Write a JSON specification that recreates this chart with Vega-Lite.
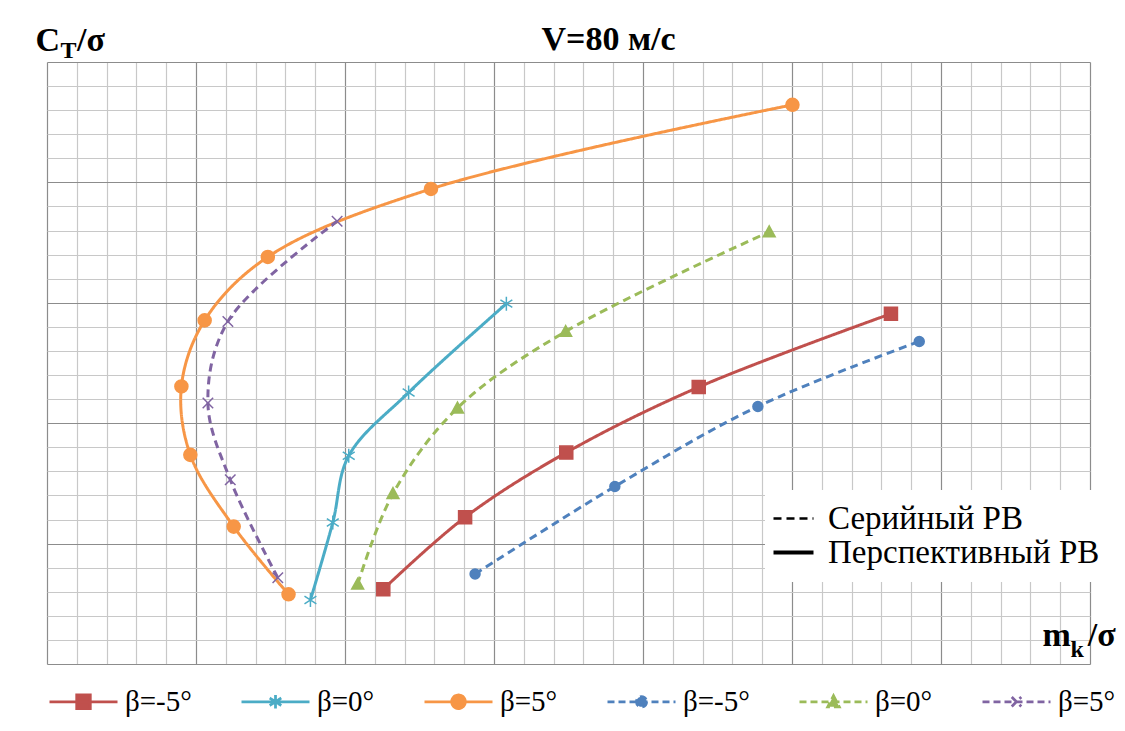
{
  "$schema": "https://vega.github.io/schema/vega-lite/v6.json",
  "width": 1043,
  "height": 602,
  "autosize": {"type": "none"},
  "padding": {"left": 47, "top": 62, "right": 35, "bottom": 67},
  "background": "white",
  "config": {
    "view": {"stroke": null},
    "font": "Liberation Serif",
    "legend": {"labelFont": "Liberation Serif", "labelColor": "black"}
  },
  "data": {
    "values": [
      {"s": "s1", "t": "Перспективный РВ", "i": 1, "m": 2.257, "c": 0.621},
      {"s": "s1", "t": "Перспективный РВ", "i": 2, "m": 2.806, "c": 1.219},
      {"s": "s1", "t": "Перспективный РВ", "i": 3, "m": 3.485, "c": 1.756},
      {"s": "s1", "t": "Перспективный РВ", "i": 4, "m": 4.374, "c": 2.3},
      {"s": "s1", "t": "Перспективный РВ", "i": 5, "m": 5.664, "c": 2.909},
      {"s": "s2", "t": "Перспективный РВ", "i": 1, "m": 1.768, "c": 0.532},
      {"s": "s2", "t": "Перспективный РВ", "i": 2, "m": 1.918, "c": 1.175},
      {"s": "s2", "t": "Перспективный РВ", "i": 3, "m": 2.025, "c": 1.729},
      {"s": "s2", "t": "Перспективный РВ", "i": 4, "m": 2.427, "c": 2.255},
      {"s": "s2", "t": "Перспективный РВ", "i": 5, "m": 3.083, "c": 2.993},
      {"s": "s3", "t": "Перспективный РВ", "i": 1, "m": 1.621, "c": 0.579},
      {"s": "s3", "t": "Перспективный РВ", "i": 2, "m": 1.253, "c": 1.141},
      {"s": "s3", "t": "Перспективный РВ", "i": 3, "m": 0.962, "c": 1.737},
      {"s": "s3", "t": "Перспективный РВ", "i": 4, "m": 0.902, "c": 2.305},
      {"s": "s3", "t": "Перспективный РВ", "i": 5, "m": 1.058, "c": 2.854},
      {"s": "s3", "t": "Перспективный РВ", "i": 6, "m": 1.482, "c": 3.381},
      {"s": "s3", "t": "Перспективный РВ", "i": 7, "m": 2.577, "c": 3.946},
      {"s": "s3", "t": "Перспективный РВ", "i": 8, "m": 5.003, "c": 4.644},
      {"s": "s4", "t": "Серийный РВ", "i": 1, "m": 2.873, "c": 0.748},
      {"s": "s4", "t": "Серийный РВ", "i": 2, "m": 3.811, "c": 1.474},
      {"s": "s4", "t": "Серийный РВ", "i": 3, "m": 4.771, "c": 2.139},
      {"s": "s4", "t": "Серийный РВ", "i": 4, "m": 5.854, "c": 2.679},
      {"s": "s5", "t": "Серийный РВ", "i": 1, "m": 2.085, "c": 0.663},
      {"s": "s5", "t": "Серийный РВ", "i": 2, "m": 2.322, "c": 1.415},
      {"s": "s5", "t": "Серийный РВ", "i": 3, "m": 2.755, "c": 2.126},
      {"s": "s5", "t": "Серийный РВ", "i": 4, "m": 3.481, "c": 2.762},
      {"s": "s5", "t": "Серийный РВ", "i": 5, "m": 4.847, "c": 3.589},
      {"s": "s6", "t": "Серийный РВ", "i": 1, "m": 1.549, "c": 0.717},
      {"s": "s6", "t": "Серийный РВ", "i": 2, "m": 1.23, "c": 1.53},
      {"s": "s6", "t": "Серийный РВ", "i": 3, "m": 1.08, "c": 2.167},
      {"s": "s6", "t": "Серийный РВ", "i": 4, "m": 1.214, "c": 2.845},
      {"s": "s6", "t": "Серийный РВ", "i": 5, "m": 1.947, "c": 3.677}
    ]
  },
  "layer": [
    {
      "mark": {"type": "line", "interpolate": "catmull-rom", "strokeWidth": 3},
      "encoding": {
        "x": {
          "field": "m", "type": "quantitative",
          "scale": {"domain": [0, 7], "nice": false, "zero": false},
          "axis": {
            "tickCount": 35, "labels": false, "ticks": false, "domain": false,
            "grid": true,
            "gridColor": {"condition": {"test": "abs(datum.value - round(datum.value)) < 0.000001", "value": "#8C8C8C"}, "value": "#C8C8C8"},
            "gridWidth": 1.2,
            "title": "m\u00a0\u00a0/σ", "titleX": 995, "titleY": -19, "titleAlign": "left",
            "titleBaseline": "alphabetic", "titleAngle": 0,
            "titleFont": "Liberation Serif", "titleFontSize": 34, "titleFontWeight": "bold", "titleColor": "black"
          }
        },
        "y": {
          "field": "c", "type": "quantitative",
          "scale": {"domain": [0, 5], "nice": false, "zero": false},
          "axis": {
            "tickCount": 25, "labels": false, "ticks": false, "domain": false,
            "grid": true,
            "gridColor": {"condition": {"test": "abs(datum.value - round(datum.value)) < 0.000001", "value": "#8C8C8C"}, "value": "#C8C8C8"},
            "gridWidth": 1.2,
            "title": "C\u00a0\u00a0/σ", "titleX": -12, "titleY": -12, "titleAlign": "left",
            "titleBaseline": "alphabetic", "titleAngle": 0,
            "titleFont": "Liberation Serif", "titleFontSize": 34, "titleFontWeight": "bold", "titleColor": "black"
          }
        },
        "color": {
          "field": "s", "type": "nominal",
          "scale": {
            "domain": ["s1", "s2", "s3", "s4", "s5", "s6"],
            "range": ["#C0504D", "#4BACC6", "#F79646", "#4F81BD", "#9BBB59", "#8064A2"]
          },
          "legend": {
            "title": null,
            "orient": "none",
            "legendX": 1,
            "legendY": 604,
            "direction": "horizontal",
            "padding": 0,
            "columnPadding": 44,
            "symbolSize": 4624,
            "labelOffset": 6,
            "labelFont": "Liberation Serif",
            "labelFontSize": 29,
            "labelColor": "black",
            "labelLimit": 300,
            "labelExpr": "datum.value === 's1' || datum.value === 's4' ? 'β=-5°' : datum.value === 's2' || datum.value === 's5' ? 'β=0°' : 'β=5°'",
            "encode": {
              "labels": {
                "update": {
                  "font": {"value": "Liberation Serif"},
                  "fontSize": {"value": 29},
                  "fill": {"value": "black"}
                }
              },
              "symbols": {
                "update": {
                  "shape": {"signal": "datum.value === 's1' ? 'M-1,0H1M-0.2,-0.2H0.2V0.2H-0.2Z' : datum.value === 's2' ? 'M-1,0H1M0,-0.2V0.2M-0.17,-0.11L0.17,0.11M-0.17,0.11L0.17,-0.11' : datum.value === 's3' ? 'M-1,0H1M0.2,0A0.2,0.2 0 1,1 -0.2,0A0.2,0.2 0 1,1 0.2,0Z' : datum.value === 's4' ? 'M-1,0H1M0.15,0A0.15,0.15 0 1,1 -0.15,0A0.15,0.15 0 1,1 0.15,0Z' : datum.value === 's5' ? 'M-1,0H1M0,-0.18L0.17,0.15H-0.17Z' : 'M-1,0H1M-0.14,-0.14L0.14,0.14M-0.14,0.14L0.14,-0.14'"},
                  "fill": {"signal": "datum.value === 's2' || datum.value === 's6' ? 'transparent' : scale('color', datum.value)"},
                  "stroke": {"signal": "scale('color', datum.value)"},
                  "strokeDash": {"signal": "datum.value === 's4' || datum.value === 's5' || datum.value === 's6' ? [7, 4] : [1, 0]"},
                  "strokeWidth": {"value": 2.75},
                  "size": {"value": 4624},
                  "opacity": {"value": 1}
                }
              }
            }
          }
        },
        "strokeDash": {
          "field": "t", "type": "nominal",
          "scale": {"domain": ["Серийный РВ", "Перспективный РВ"], "range": [[8, 5], [1, 0]]},
          "legend": {
            "title": null,
            "orient": "none",
            "legendX": 718,
            "legendY": 428,
            "direction": "vertical",
            "fillColor": "white",
            "padding": 12,
            "rowPadding": 0,
            "symbolType": "stroke",
            "symbolSize": 1600,
            "symbolStrokeColor": "black",
            "labelOffset": 18,
            "labelFont": "Liberation Serif",
            "labelFontSize": 33,
            "labelColor": "black",
            "labelLimit": 400,
            "encode": {
              "labels": {
                "update": {
                  "font": {"value": "Liberation Serif"},
                  "fontSize": {"value": 33},
                  "fill": {"value": "black"}
                }
              },
              "symbols": {
                "update": {
                  "strokeDash": {"signal": "datum.value === 'Серийный РВ' ? [3, 3] : [1, 0]"},
                  "strokeWidth": {"signal": "datum.value === 'Серийный РВ' ? 2.5 : 4"},
                  "stroke": {"value": "black"}
                }
              }
            }
          }
        },
        "order": {"field": "i", "type": "quantitative"}
      }
    },
    {
      "mark": {"type": "point", "strokeWidth": 1.5, "opacity": 1, "size": 196},
      "encoding": {
        "x": {
          "field": "m", "type": "quantitative",
          "axis": {
            "orient": "top", "values": [0.087], "labelExpr": "'T'",
            "labels": true, "ticks": false, "tickSize": 0, "domain": false, "grid": false,
            "labelAlign": "left", "labelBaseline": "alphabetic", "labelPadding": 5,
            "labelFont": "Liberation Serif", "labelFontSize": 24, "labelFontWeight": "bold", "labelColor": "black",
            "labelFlush": false, "labelOverlap": false,
            "title": "V=80 м/с", "titleX": 494, "titleY": -13, "titleAlign": "left",
            "titleBaseline": "alphabetic", "titleAngle": 0,
            "titleFont": "Liberation Serif", "titleFontSize": 34, "titleFontWeight": "bold", "titleColor": "black"
          }
        },
        "y": {
          "field": "c", "type": "quantitative",
          "axis": {
            "orient": "right", "labels": false, "ticks": false, "domain": false, "grid": false,
            "title": "k", "titleX": -20, "titleY": 594, "titleAlign": "left",
            "titleBaseline": "alphabetic", "titleAngle": 0,
            "titleFont": "Liberation Serif", "titleFontSize": 24, "titleFontWeight": "bold", "titleColor": "black"
          }
        },
        "shape": {
          "field": "s", "type": "nominal",
          "scale": {
            "domain": ["s6", "s5", "s4", "s3", "s2", "s1"],
            "range": [
              "M-0.75,-0.75L0.75,0.75M-0.75,0.75L0.75,-0.75",
              "M0,-0.85L0.85,0.7H-0.85Z",
              "M0.71,0A0.71,0.71 0 1,1 -0.71,0A0.71,0.71 0 1,1 0.71,0Z",
              "M0.93,0A0.93,0.93 0 1,1 -0.93,0A0.93,0.93 0 1,1 0.93,0Z",
              "M0,-1V1M-0.85,-0.55L0.85,0.55M-0.85,0.55L0.85,-0.55",
              "M-0.93,-0.93H0.93V0.93H-0.93Z"
            ]
          },
          "legend": null
        },
        "fill": {
          "field": "s", "type": "nominal",
          "scale": {
            "domain": ["s2", "s1", "s3", "s4", "s5", "s6"],
            "range": ["transparent", "#C0504D", "#F79646", "#4F81BD", "#9BBB59", "transparent"]
          },
          "legend": null
        },
        "stroke": {
          "field": "s", "type": "nominal",
          "scale": {
            "domain": ["s3", "s1", "s2", "s4", "s5", "s6"],
            "range": ["#F79646", "#C0504D", "#4BACC6", "#4F81BD", "#9BBB59", "#8064A2"]
          },
          "legend": null
        }
      }
    }
  ],
  "resolve": {"axis": {"x": "independent", "y": "independent"}}
}
